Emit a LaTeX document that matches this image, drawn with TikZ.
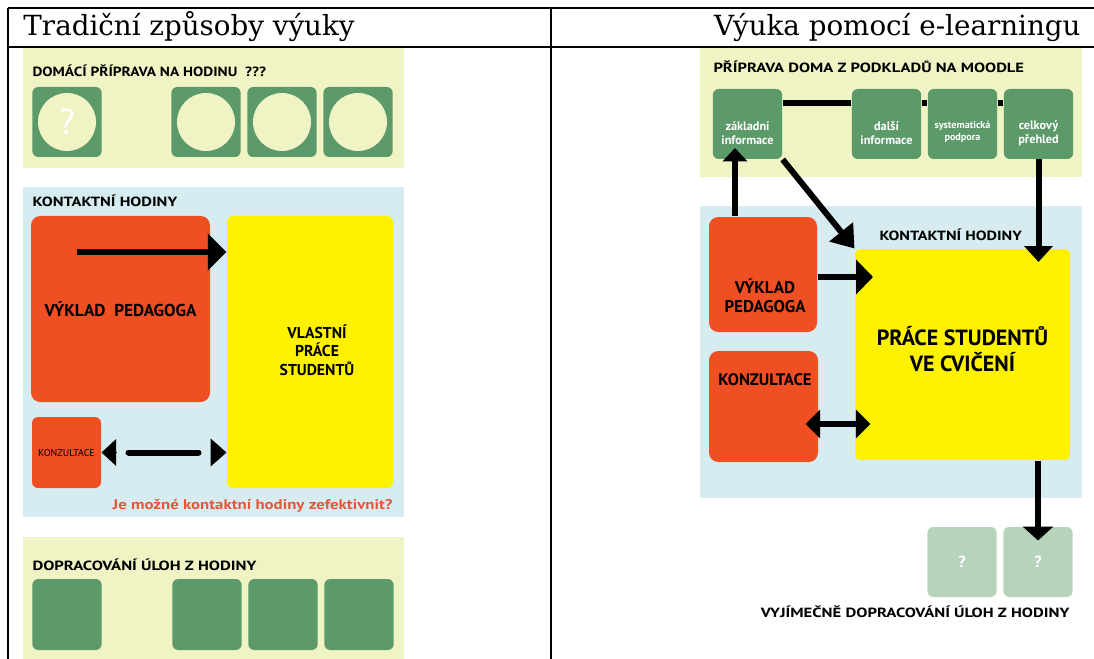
\documentclass[tikz,border=0pt]{standalone}
\usepackage{fontspec}
\setmainfont{DejaVu Serif}
\newfontfamily\ptsans{PT Sans}
\usetikzlibrary{arrows.meta,calc}

\definecolor{paleolive}{RGB}{240,244,196}
\definecolor{paleblue}{RGB}{214,236,240}
\definecolor{leafgreen}{RGB}{92,154,106}
\definecolor{fadedgreen}{RGB}{182,211,187}
\definecolor{redorange}{RGB}{240,78,35}
\definecolor{brightyellow}{RGB}{255,242,0}
\definecolor{warnred}{RGB}{232,86,58}

% wider bold caps for the section headings
\newcommand{\widen}[2][1.23]{\scalebox{#1}[1]{#2}}

\tikzset{every picture/.style={line width=0.75pt}}
\tikzset{
  tabline/.style={line width=1.5pt},
  coltitle/.style={anchor=base west, inner sep=0pt, font=\fontsize{20.8}{24}\selectfont},
  heading/.style={anchor=base west, inner sep=0pt, font=\ptsans\bfseries\fontsize{10}{12}\selectfont},
  tile/.style={fill=leafgreen, rounded corners=4.5pt, minimum width=52pt, minimum height=52.5pt, inner sep=0pt},
  fadedtile/.style={tile, fill=fadedgreen, text=white, font=\ptsans\bfseries\fontsize{12}{14}\selectfont},
  orangebox/.style={fill=redorange, rounded corners=7pt, inner sep=0pt, align=center},
  yellowbox/.style={fill=brightyellow, rounded corners=4.5pt, inner sep=0pt, align=center},
  boxtext/.style={align=center, inner sep=0pt},
  tiletext/.style={boxtext, text=white, font=\ptsans\bfseries\fontsize{9.2}{10.5}\selectfont},
  fat/.style={line width=4.5pt},
  headonly/.style={line width=0.75pt},
}

\begin{document}
\begin{tikzpicture}[x=0.75pt,y=0.75pt,yscale=-1,xscale=1]
\useasboundingbox (0,0) rectangle (1094,659);

%Shape: Rectangle
\fill[paleolive] (23,48) rectangle (404,168);
\fill[paleblue] (23,187) rectangle (404,517);
\fill[paleolive] (23,537) rectangle (404,659);
\fill[paleolive] (700,48) rectangle (1082,177);
\fill[paleblue] (700,206) rectangle (1082,498);

%Straight Lines
\draw[tabline] (8,8) -- (1094,8);
\draw[tabline] (8,47) -- (1094,47);
\draw[tabline] (8,8) -- (8,659);
\draw[tabline] (551,8) -- (551,659);

% Text Node
\node[coltitle] (tradtitle) at (23,36) {Tradiční způsoby výuky};
% Text Node
\node[coltitle, anchor=base east] (elrntitle) at (1081,36) {Výuka pomocí e-learningu};

%% left column: home preparation
\node[heading] (homeprep) at (32,77) {\widen[1.15]{DOMÁCÍ PŘÍPRAVA NA HODINU\ \ ???}};
\node[tile] (hp1) at (67,122) {};
\node[tile] (hp2) at (206,122) {};
\node[tile] (hp3) at (282,122) {};
\node[tile] (hp4) at (358,122) {};
\fill[paleolive] (hp1.center) circle (21.75pt);
\fill[paleolive] (hp2.center) circle (21.75pt);
\fill[paleolive] (hp3.center) circle (21.75pt);
\fill[paleolive] (hp4.center) circle (21.75pt);
\node[text=white, font=\ptsans\fontsize{27}{27}\selectfont] (hpq) at (hp1.center) {?};

%% left column: contact hours
\node[heading] (contact) at (32,207) {\widen{KONTAKTNÍ HODINY}};
\node[orangebox, minimum width=134.25pt, minimum height=139.5pt, font=\ptsans\bfseries\fontsize{12.9}{15}\selectfont] (ped) at (120.5,309) {VÝKLAD\ \ PEDAGOGA};
\node[yellowbox, minimum width=124.5pt, minimum height=204pt] (vps) at (310,352) {};
\node[boxtext, font=\ptsans\bfseries\fontsize{11.8}{13.9}\selectfont] (vpstext) at ($(vps)+(7,-2)$) {VLASTNÍ\\PRÁCE\\STUDENTŮ};
\node[orangebox, rounded corners=4.5pt, minimum width=51.75pt, minimum height=53.25pt, font=\ptsans\fontsize{7.5}{9}\selectfont] (kon) at (66.5,452.5) {KONZULTACE};

%Straight Lines
\coordinate (pedarrow) at (77,252);
\draw[fat, -{Triangle[length=14pt,width=27pt]}] (pedarrow) -- (pedarrow -| vps.west);
%Straight Lines
\draw[fat, line cap=round] ($(kon.east)+(27,0)$) -- ($(kon.east -| vps.west)+(-28,0)$);
\draw[headonly, -{Triangle[length=11pt,width=20pt]}] ($(kon.east)+(15,0)$) -- (kon.east);
\draw[headonly, -{Triangle[length=12pt,width=21pt]}] ($(kon.east -| vps.west)+(-16,0)$) -- (kon.east -| vps.west);

% Text Node
\node[anchor=base east, inner sep=0pt, text=warnred, font=\ptsans\bfseries\fontsize{10.5}{12}\selectfont] (question) at (393,509) {\widen[1.2]{Je možné kontaktní hodiny zefektivnit?}};

%% left column: homework
\node[heading] (rework) at (32,570) {\widen[1.25]{DOPRACOVÁNÍ ÚLOH Z HODINY}};
\node[tile, minimum height=53.25pt] (rw1) at (67,614.5) {};
\node[tile, minimum height=53.25pt] (rw2) at (207,614.5) {};
\node[tile, minimum height=53.25pt] (rw3) at (283,614.5) {};
\node[tile, minimum height=53.25pt] (rw4) at (359,614.5) {};

%% right column: moodle preparation
\node[heading] (moodleprep) at (713,73) {\widen[1.24]{PŘÍPRAVA DOMA Z PODKLADŮ NA MOODLE}};
\node[tile] (zakl) at (747.5,124) {};
\node[tile] (dals) at (886.5,124) {};
\node[tile] (syst) at (962.5,124) {};
\node[tile] (celk) at (1038.5,124) {};
\draw[fat] ($(zakl.east)+(0,-21)$) -- ($(dals.west)+(0,-21)$);
\draw[fat] ($(dals.east)+(0,-21)$) -- ($(syst.west)+(0,-21)$);
\draw[fat] ($(syst.east)+(0,-21)$) -- ($(celk.west)+(0,-21)$);
\node[tiletext] (zakltext) at ($(zakl)+(0,9)$) {základní\\informace};
\node[tiletext] (dalstext) at ($(dals)+(0,9)$) {další\\informace};
\node[tiletext, font=\ptsans\bfseries\fontsize{7.6}{9}\selectfont] (ssttext) at ($(syst)+(0,8)$) {systematická\\podpora};
\node[tiletext] (celktext) at ($(celk)+(0,9)$) {celkový\\přehled};

%% right column: contact hours
\node[heading] (contact2) at (879,240) {\widen[1.21]{KONTAKTNÍ HODINY}};
\node[orangebox, minimum width=81pt, minimum height=86.25pt] (ped2) at (763,274.5) {};
\node[boxtext, font=\ptsans\bfseries\fontsize{12.7}{14.2}\selectfont] (ped2text) at ($(ped2)+(2,21)$) {VÝKLAD\\PEDAGOGA};
\node[orangebox, minimum width=81.75pt, minimum height=83.25pt] (kon2) at (763.5,406.5) {};
\node[boxtext, font=\ptsans\bfseries\fontsize{12.5}{14}\selectfont] (kon2text) at ($(kon2)+(1.5,-26.5)$) {KONZULTACE};
\node[yellowbox, minimum width=161.25pt, minimum height=158.25pt] (yel2) at (962.5,354.5) {};
\node[boxtext, font=\ptsans\bfseries\fontsize{16.5}{19.5}\selectfont] (yel2text) at ($(yel2)+(0,-5)$) {PRÁCE STUDENTŮ\\VE CVIČENÍ};

%Straight Lines
\coordinate (uptip) at (735,148);
\draw[fat, -{Triangle[length=10pt,width=18pt]}] (uptip |- ped2.north) -- (uptip);
\draw[fat, -{Triangle[length=16pt,width=22pt]}] (zakl.south east) -- (yel2.north west);
\coordinate (celktip) at (1038,262);
\draw[fat, -{Triangle[length=12pt,width=21pt]}] (celk.south) -- (celk.south |- celktip);
\coordinate (pedtip) at (873,277);
\draw[fat, -{Triangle[length=12.75pt,width=25.5pt]}] (pedtip -| ped2.east) -- (pedtip);
\coordinate (konl) at ($(kon2.east)+(-13,17.5)$);
\draw[fat, {Triangle[length=11pt,width=21pt]}-{Triangle[length=11pt,width=21pt]}] (konl) -- ($(konl -| yel2.west)+(16,0)$);

%% right column: rare homework
\node[fadedtile] (qa) at (962,562) {?};
\node[fadedtile] (qb) at (1038,562) {?};
\draw[fat, -{Triangle[length=10.5pt,width=22.5pt]}] (qb |- yel2.south) -- ($(qb.north)+(0,14)$);
\node[heading, anchor=base east] (rarely) at (1070,617) {\widen[1.25]{VYJÍMEČNĚ DOPRACOVÁNÍ ÚLOH Z HODINY}};

\end{tikzpicture}
\end{document}
